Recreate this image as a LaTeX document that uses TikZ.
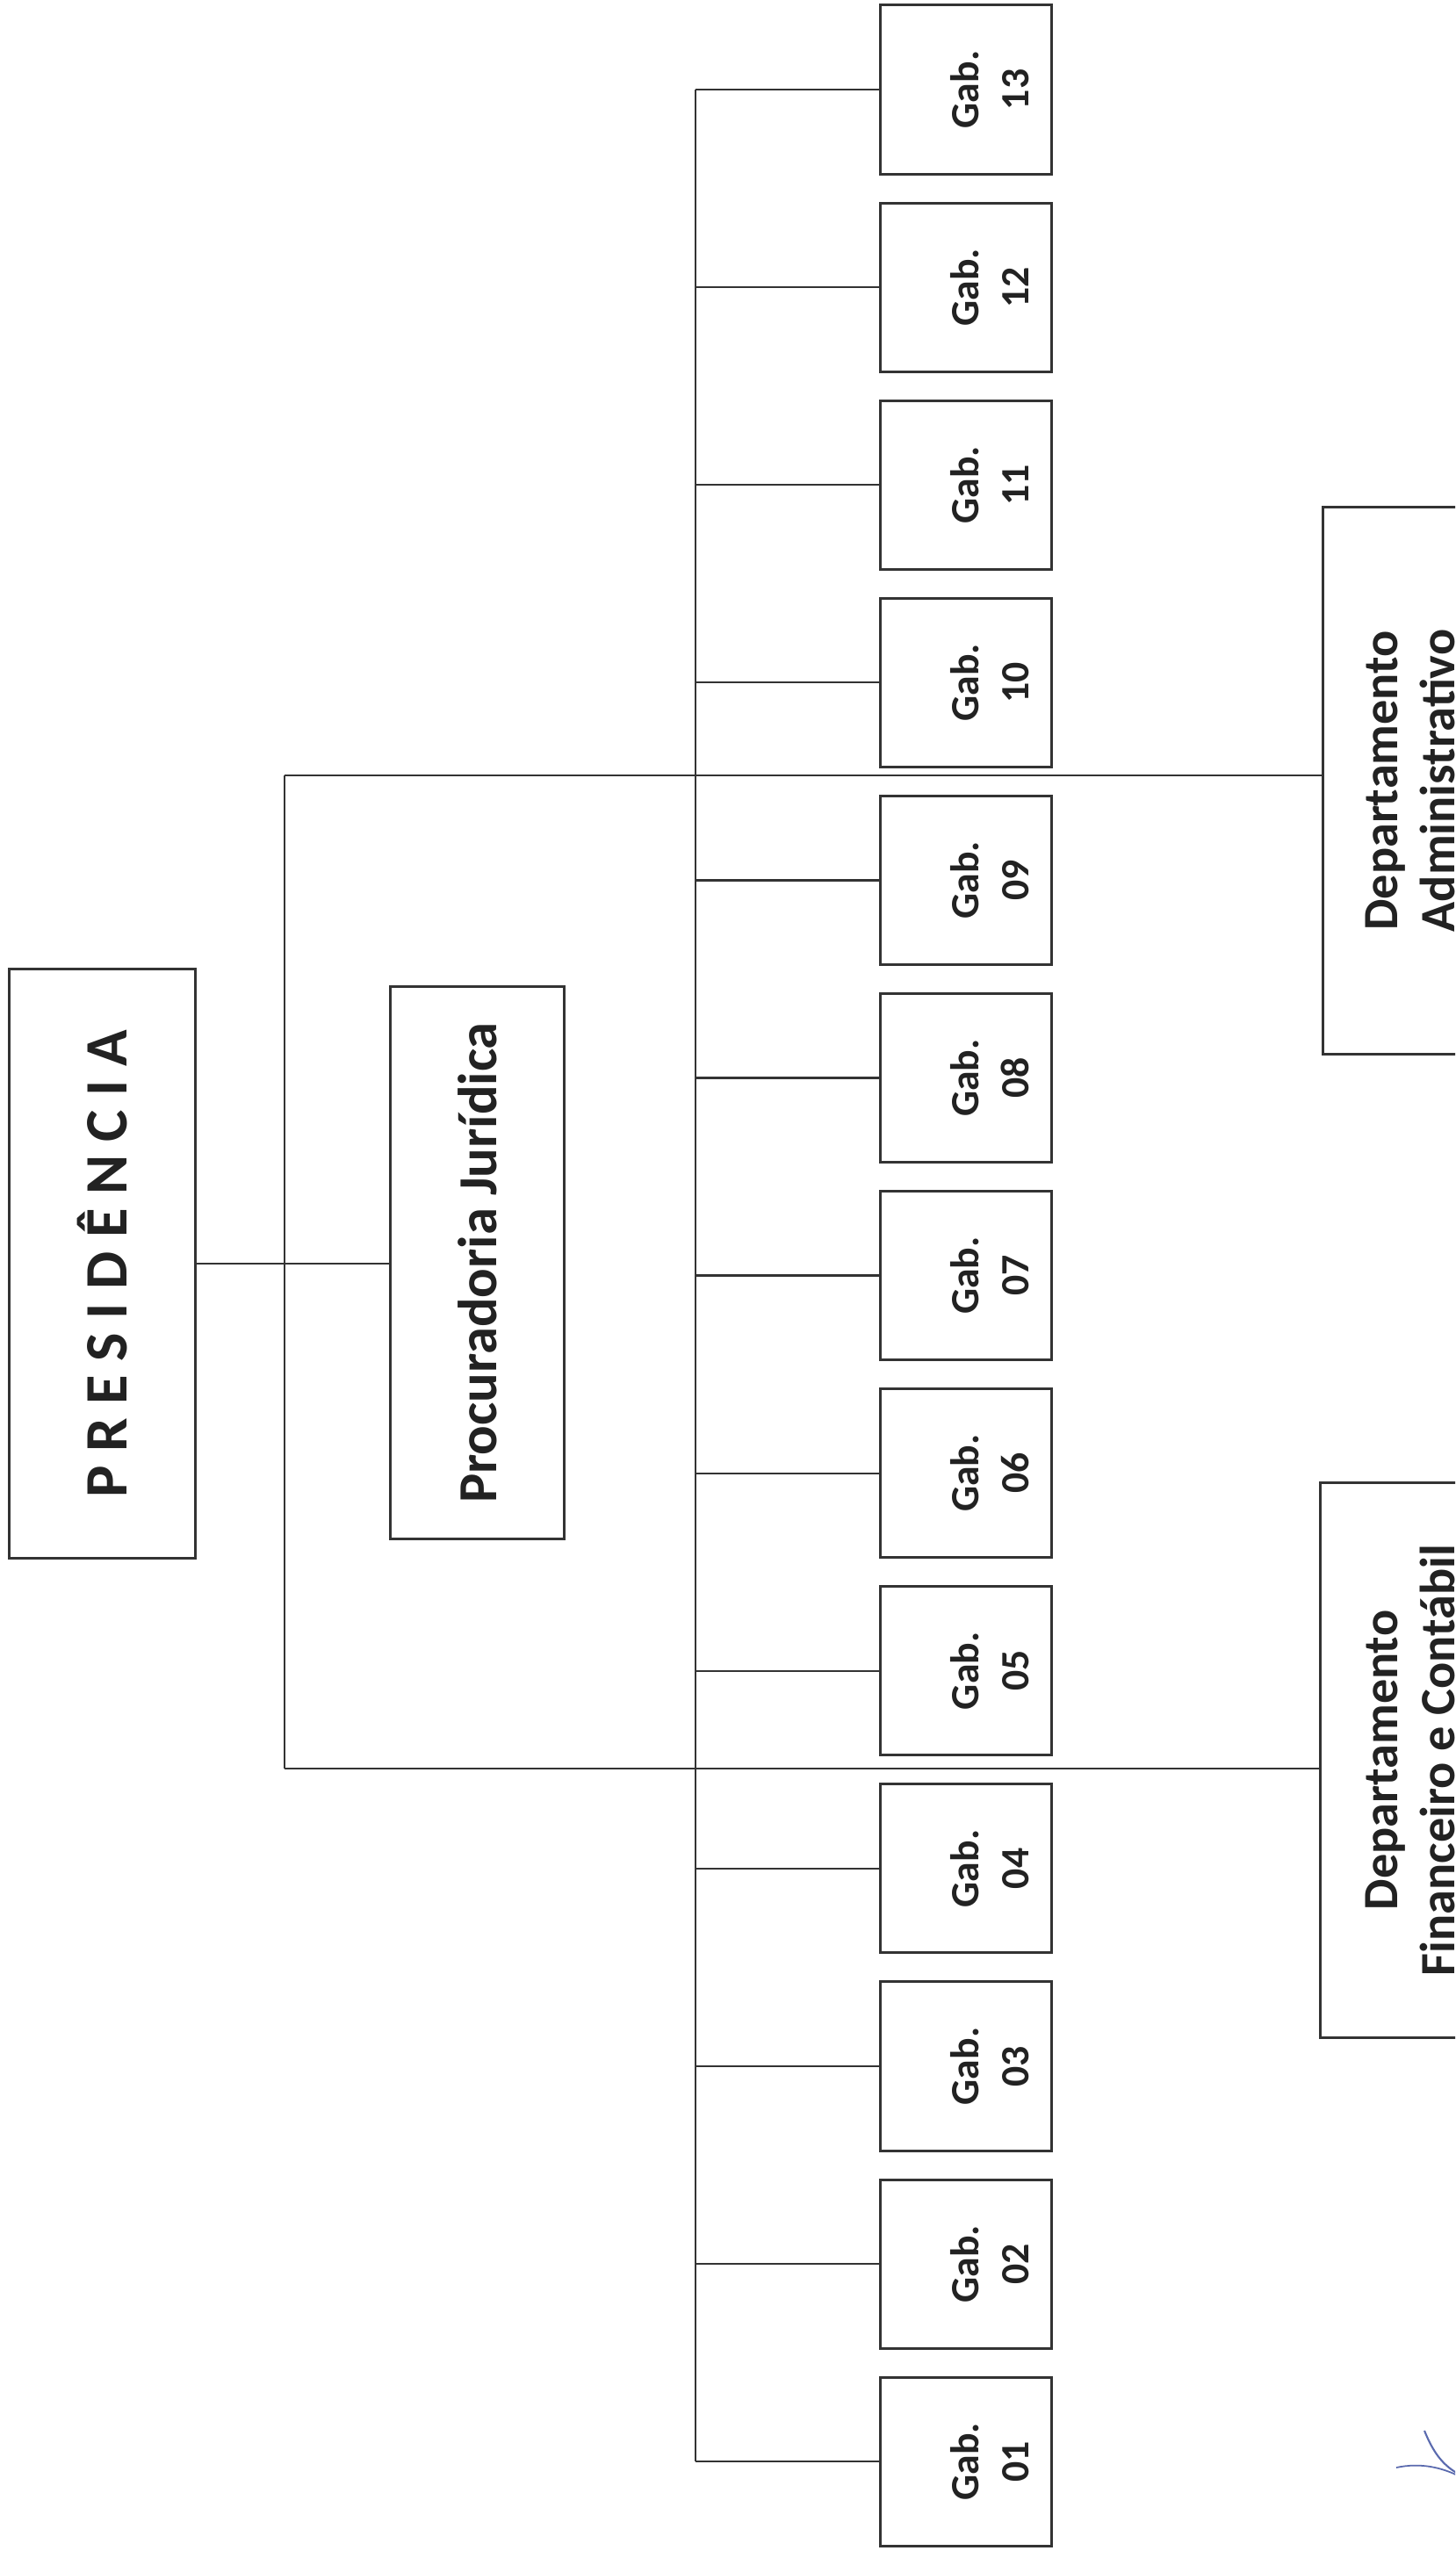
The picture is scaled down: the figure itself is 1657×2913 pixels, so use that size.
\documentclass[tikz,border=0pt]{standalone}
\usepackage{fontspec}
\setmainfont{Carlito}
\definecolor{linecol}{HTML}{333333}
\definecolor{txtcol}{HTML}{222222}
\definecolor{inkblue}{HTML}{5A6AAE}
\begin{document}
\begin{tikzpicture}[x=0.01cm, y=-0.01cm]
\tikzstyle{box}=[rectangle, rotate=90, draw=linecol, line width=0.85pt, inner sep=0pt, align=center, text=txtcol]
\tikzstyle{gab}=[box, minimum width=1.92cm, minimum height=1.94cm]
\tikzstyle{gabtext}=[rotate=90, inner sep=0pt, align=center, text=txtcol, font=\bfseries\fontsize{13}{16.2}\selectfont]
\tikzstyle{link}=[draw=linecol, line width=0.65pt]

\useasboundingbox (0,0) rectangle (1657,2913);
\clip (0,0) rectangle (1657,2913);

% Presidency and legal office
\node[box, minimum width=6.70cm, minimum height=2.11cm, font=\bfseries\fontsize{19.5}{23}\selectfont] (pres) at (116.5,1439) {P R E S I D Ê N C I A};
\node[box, minimum width=6.29cm, minimum height=1.97cm, font=\bfseries\fontsize{17.8}{21}\selectfont] (proc) at (543.5,1438) {Procuradoria Jurídica};

% Departments (cut by the page edge)
\node[box, minimum width=6.22cm, minimum height=1.98cm, font=\bfseries\fontsize{16}{18.5}\selectfont] (dadm) at (1606,889) {Departamento\\Administrativo};
\node[box, minimum width=6.31cm, minimum height=2.04cm, font=\bfseries\fontsize{16}{18.5}\selectfont] (dfin) at (1606,2004.5) {Departamento\\Financeiro e Contábil};

% Cabinets
\node[gab] (g13) at (1100,102) {};
\node[gab] (g12) at (1100,327.1) {};
\node[gab] (g11) at (1100,552.2) {};
\node[gab] (g10) at (1100,777.3) {};
\node[gab] (g09) at (1100,1002.4) {};
\node[gab] (g08) at (1100,1227.5) {};
\node[gab] (g07) at (1100,1452.6) {};
\node[gab] (g06) at (1100,1677.7) {};
\node[gab] (g05) at (1100,1902.8) {};
\node[gab] (g04) at (1100,2127.9) {};
\node[gab] (g03) at (1100,2353) {};
\node[gab] (g02) at (1100,2578.1) {};
\node[gab] (g01) at (1100,2803.2) {};

% Cabinet labels
\node[gabtext] (t13) at ([shift={(27,0)}]g13.center) {Gab.\\13};
\node[gabtext] (t12) at ([shift={(27,0)}]g12.center) {Gab.\\12};
\node[gabtext] (t11) at ([shift={(27,0)}]g11.center) {Gab.\\11};
\node[gabtext] (t10) at ([shift={(27,0)}]g10.center) {Gab.\\10};
\node[gabtext] (t09) at ([shift={(27,0)}]g09.center) {Gab.\\09};
\node[gabtext] (t08) at ([shift={(27,0)}]g08.center) {Gab.\\08};
\node[gabtext] (t07) at ([shift={(27,0)}]g07.center) {Gab.\\07};
\node[gabtext] (t06) at ([shift={(27,0)}]g06.center) {Gab.\\06};
\node[gabtext] (t05) at ([shift={(27,0)}]g05.center) {Gab.\\05};
\node[gabtext] (t04) at ([shift={(27,0)}]g04.center) {Gab.\\04};
\node[gabtext] (t03) at ([shift={(27,0)}]g03.center) {Gab.\\03};
\node[gabtext] (t02) at ([shift={(27,0)}]g02.center) {Gab.\\02};
\node[gabtext] (t01) at ([shift={(27,0)}]g01.center) {Gab.\\01};

% Junction points
\coordinate (ltop) at (324,883);
\coordinate (lbot) at (324,2014);
\coordinate (bus) at (792,0);

% Connect nodes
\draw[link] (pres.south) -- (pres.south -| proc.north);
\draw[link] (ltop) -- (lbot);
\draw[link] (ltop) -- (ltop -| dadm.north);
\draw[link] (lbot) -- (lbot -| dfin.north);

\draw[link] (bus |- g13.north) -- (bus |- g01.north);
\draw[link] (bus |- g13.north) -- (g13.north);
\draw[link] (bus |- g12.north) -- (g12.north);
\draw[link] (bus |- g11.north) -- (g11.north);
\draw[link] (bus |- g10.north) -- (g10.north);
\draw[link] (bus |- g09.north) -- (g09.north);
\draw[link] (bus |- g08.north) -- (g08.north);
\draw[link] (bus |- g07.north) -- (g07.north);
\draw[link] (bus |- g06.north) -- (g06.north);
\draw[link] (bus |- g05.north) -- (g05.north);
\draw[link] (bus |- g04.north) -- (g04.north);
\draw[link] (bus |- g03.north) -- (g03.north);
\draw[link] (bus |- g02.north) -- (g02.north);
\draw[link] (bus |- g01.north) -- (g01.north);

% Ink mark in the corner
\draw[inkblue, line width=0.6pt] (1622,2768) .. controls (1633,2795) and (1644,2808) .. (1662,2818);
\draw[inkblue, line width=0.5pt] (1590,2810) .. controls (1618,2804) and (1642,2810) .. (1662,2820);
\end{tikzpicture}
\end{document}
